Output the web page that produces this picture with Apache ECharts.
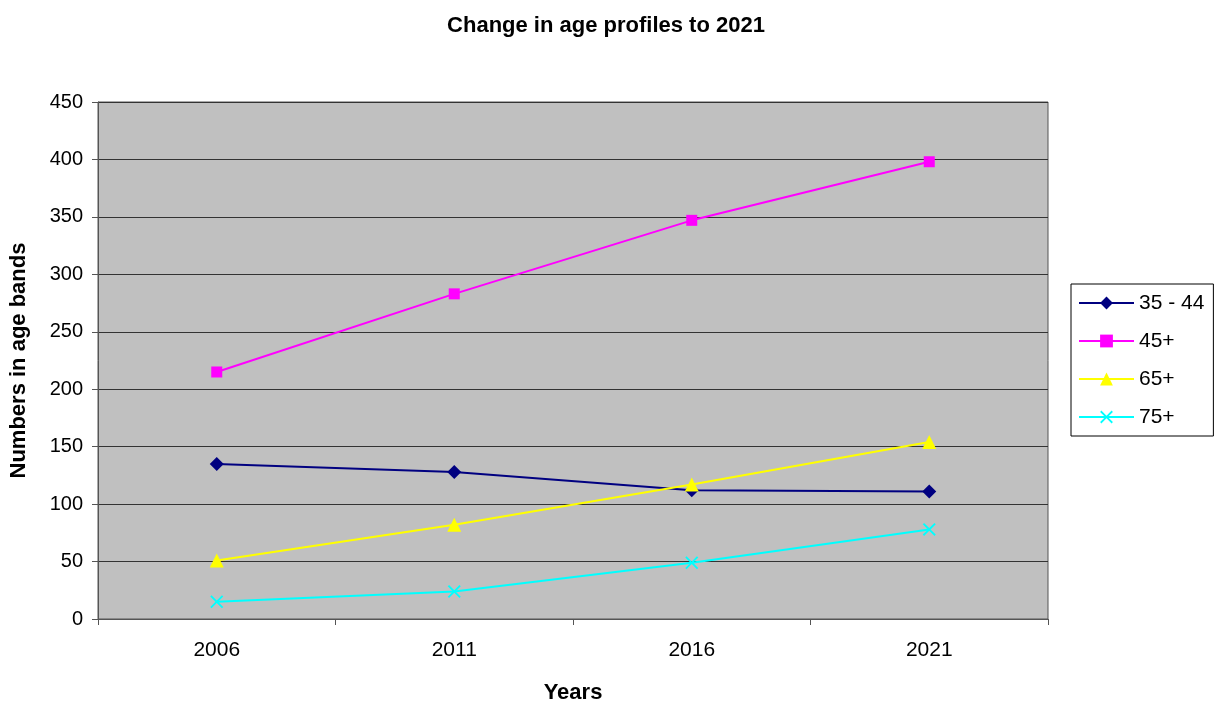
<!DOCTYPE html>
<html>
<head>
<meta charset="utf-8">
<script src="https://cdn.jsdelivr.net/npm/echarts@6/dist/echarts.min.js"></script>
<style>
  html, body { margin: 0; padding: 0; background: #fff; }
  #chart { width: 1216px; height: 702px; }
</style>
</head>
<body>
<div id="chart"></div>
<script>
  // data
  var years = ['2006', '2011', '2016', '2021'];
  var band3544 = [135, 128, 112, 111];
  var band45 = [215, 283, 347, 398];
  var band65 = [51, 82, 117, 154];
  var band75 = [15, 24, 49, 78];

  var font = 'Liberation Sans, Arial, sans-serif';
  // X mark as a filled outline so it shows like a cross
  var crossPath = 'path://M0,1L1,0L5,4L9,0L10,1L6,5L10,9L9,10L5,6L1,10L0,9L4,5Z';

  function line(name, data, color, symbol, size) {
    return {
      name: name,
      type: 'line',
      data: data,
      symbol: symbol,
      symbolSize: size,
      showAllSymbol: true,
      lineStyle: { color: color, width: 2 },
      itemStyle: { color: color },
      emphasis: { disabled: true },
      z: 3
    };
  }

  var myChart = echarts.init(document.getElementById('chart'));
  myChart.setOption({
    animation: false,
    backgroundColor: '#fff',
    title: {
      text: 'Change in age profiles to 2021',
      left: 601,
      textAlign: 'center',
      top: 10,
      textStyle: { fontFamily: font, fontSize: 22, fontWeight: 'bold', color: '#000' }
    },
    legend: {
      orient: 'vertical',
      left: 1071,
      top: 284,
      padding: [8, 9, 8, 7],
      itemWidth: 55,
      itemHeight: 16,
      itemGap: 16,
      borderColor: '#000',
      borderWidth: 1,
      backgroundColor: '#fff',
      textStyle: { fontFamily: font, fontSize: 21, color: '#000', lineHeight: 22 },
      data: ['35 - 44', '45+', '65+', '75+']
    },
    grid: {
      left: 98,
      right: 168,
      top: 102,
      bottom: 83,
      containLabel: false,
      outerBoundsMode: 'none',
      show: true,
      backgroundColor: '#c0c0c0',
      borderColor: '#555',
      borderWidth: 1
    },
    xAxis: {
      type: 'category',
      data: years,
      boundaryGap: true,
      name: 'Years',
      nameLocation: 'middle',
      nameGap: 63,
      nameTextStyle: { fontFamily: font, fontSize: 22, fontWeight: 'bold', color: '#000' },
      axisLine: { lineStyle: { color: '#555' } },
      axisTick: { show: true, alignWithLabel: false, interval: 0, length: 6, lineStyle: { color: '#555' } },
      axisLabel: { fontFamily: font, fontSize: 21, color: '#000', margin: 21 },
      splitLine: { show: false }
    },
    yAxis: {
      type: 'value',
      min: 0,
      max: 450,
      interval: 50,
      name: 'Numbers in age bands',
      nameLocation: 'middle',
      nameGap: 68,
      nameTextStyle: { fontFamily: font, fontSize: 22, fontWeight: 'bold', color: '#000' },
      axisLine: { show: true, lineStyle: { color: '#555' } },
      axisTick: { show: true, length: 6, lineStyle: { color: '#555' } },
      axisLabel: { fontFamily: font, fontSize: 20, color: '#000', margin: 15 },
      splitLine: { show: true, lineStyle: { color: '#333', width: 1 } }
    },
    series: [
      line('35 - 44', band3544, '#000080', 'diamond', 14),
      line('45+', band45, '#ff00ff', 'rect', 11),
      line('65+', band65, '#ffff00', 'triangle', 14),
      line('75+', band75, '#00ffff', crossPath, 13)
    ]
  });
</script>
</body>
</html>
